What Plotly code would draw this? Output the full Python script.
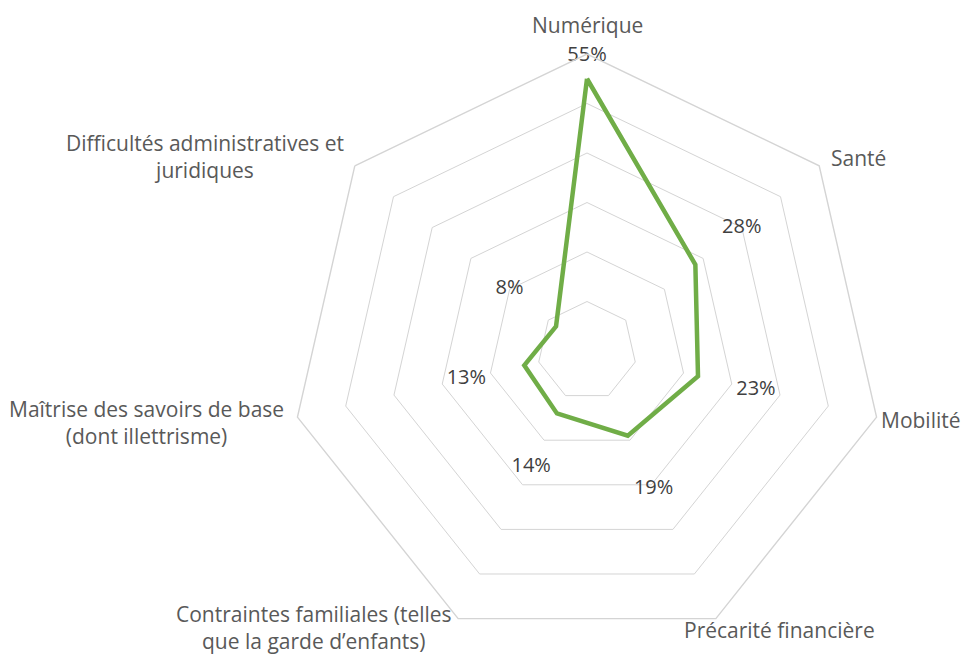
import math
import plotly.graph_objects as go

categories = [
    "Numérique",
    "Santé",
    "Mobilité",
    "Précarité financière",
    "Contraintes familiales (telles<br>que la garde d’enfants)",
    "Maîtrise des savoirs de base<br>(dont illettrisme)",
    "Difficultés administratives et<br>juridiques",
]
values = [0.55, 0.28, 0.23, 0.19, 0.14, 0.13, 0.08]
value_labels = ["55%", "28%", "23%", "19%", "14%", "13%", "8%"]

# page has an 8px body margin: figure pixels = page pixels - 8
W, H = 965, 647
OFF = 8
R_MAX = 0.6
FONT = "Open Sans"
FS = 21

# polar domain (figure pixels)
cx, cy, R = 587 - OFF, 351 - OFF, 297
dom_x = [(cx - R) / W, (cx + R) / W]
dom_y = [1 - (cy + R) / H, 1 - (cy - R) / H]

fig = go.Figure()

theta_idx = list(range(len(categories)))
fig.add_trace(go.Scatterpolar(
    r=values + values[:1],
    theta=theta_idx + theta_idx[:1],
    mode="lines",
    line=dict(color="#70AD47", width=4.5),
    hoverinfo="skip",
))

label_r = [min(v + 0.12, 0.595) for v in values]
fig.add_trace(go.Scatterpolar(
    r=label_r,
    theta=theta_idx,
    mode="text",
    text=value_labels,
    textfont=dict(family=FONT, size=FS - 1, color="#404040"),
    cliponaxis=False,
    hoverinfo="skip",
))

# category labels anchored at outer vertices
n = len(categories)
label_style = [
    dict(xanchor="center", yanchor="bottom", xshift=0, yshift=13),
    dict(xanchor="left", yanchor="middle", xshift=10, yshift=8),
    dict(xanchor="right", yanchor="middle", xshift=86, yshift=-3),
    dict(xanchor="center", yanchor="middle", xshift=64, yshift=-11),
    dict(xanchor="center", yanchor="middle", xshift=-144, yshift=-9),
    dict(xanchor="center", yanchor="middle", xshift=-151, yshift=-5),
    dict(xanchor="center", yanchor="middle", xshift=-150, yshift=9),
]
annotations = []
for i, (cat, st) in enumerate(zip(categories, label_style)):
    a = 2 * math.pi * i / n
    px = cx + R * math.sin(a)
    py = cy - R * math.cos(a)
    annotations.append(dict(
        x=px / W, y=1 - py / H, xref="paper", yref="paper",
        text=cat, showarrow=False, align="center",
        font=dict(family=FONT, size=FS, color="#595959"),
        **st,
    ))

fig.update_layout(
    width=W, height=H,
    margin=dict(l=0, r=0, t=0, b=0),
    paper_bgcolor="white",
    showlegend=False,
    annotations=annotations,
    polar=dict(
        domain=dict(x=dom_x, y=dom_y),
        bgcolor="white",
        gridshape="linear",
        radialaxis=dict(
            range=[0, R_MAX], dtick=0.1, showticklabels=False, ticks="",
            showline=False, gridcolor="#D4D4D4", gridwidth=1.4,
        ),
        angularaxis=dict(
            type="category", categoryarray=theta_idx,
            direction="clockwise", rotation=90,
            showgrid=False, showticklabels=False, ticks="",
            showline=True, linecolor="#D4D4D4", linewidth=1.4,
        ),
    ),
)

fig.write_html("out.html")
